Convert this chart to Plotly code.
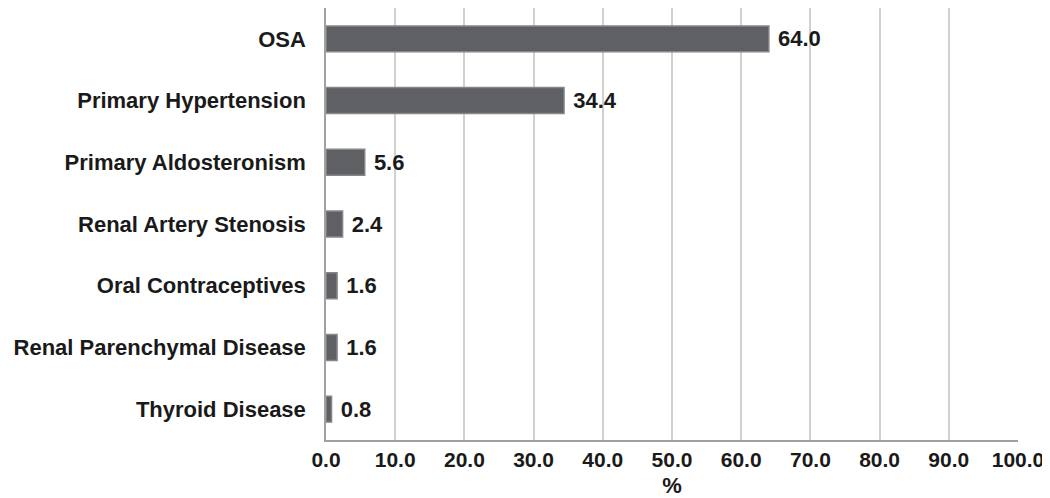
import plotly.graph_objects as go

categories = ["OSA", "Primary Hypertension", "Primary Aldosteronism", "Renal Artery Stenosis",
              "Oral Contraceptives", "Renal Parenchymal Disease", "Thyroid Disease"]
values = [64.0, 34.4, 5.6, 2.4, 1.6, 1.6, 0.8]
tick_vals = [0, 10, 20, 30, 40, 50, 60, 70, 80, 90, 100]
tick_text = ["0.0", "10.0", "20.0", "30.0", "40.0", "50.0", "60.0", "70.0", "80.0", "90.0", "100.0"]

font_family = "Liberation Sans, Arial, sans-serif"
txt_color = "#1a1a1a"

fig = go.Figure(go.Bar(
    x=values, y=categories, orientation="h",
    marker=dict(color="#5f6064", line=dict(color="#86868a", width=1.5)),
    width=0.42,
    texttemplate="&nbsp;<b>%{x:.1f}</b>", textposition="outside",
    textfont=dict(family=font_family, size=22, color=txt_color),
    cliponaxis=False,
))

# the page places the figure 8px from the top-left corner
fig.update_layout(
    width=1042, height=490,
    margin=dict(l=318, r=32, t=0, b=58, autoexpand=False),
    plot_bgcolor="white", paper_bgcolor="white",
    font=dict(family=font_family, size=22, color=txt_color),
    showlegend=False,
)
fig.update_xaxes(
    range=[0, 100], tickvals=tick_vals, ticktext=[f"<b>{t}</b>" for t in tick_text],
    showgrid=True, gridcolor="#d0d0d0", gridwidth=1.5,
    showline=True, linecolor="#a0a0a0", linewidth=1.5,
    tickfont=dict(family=font_family, size=21, color=txt_color),
    title=dict(text="<b>%</b>", font=dict(family=font_family, size=22, color=txt_color), standoff=14),
    zeroline=False, automargin=False,
)
fig.update_yaxes(
    categoryorder="array", categoryarray=categories[::-1],
    tickvals=categories, ticktext=[f"<b>{c}</b>" for c in categories],
    showline=True, linecolor="#a0a0a0", linewidth=1.5,
    tickfont=dict(family=font_family, size=22, color=txt_color),
    ticklabelstandoff=14, automargin=False,
)

fig.write_html("out.html")
